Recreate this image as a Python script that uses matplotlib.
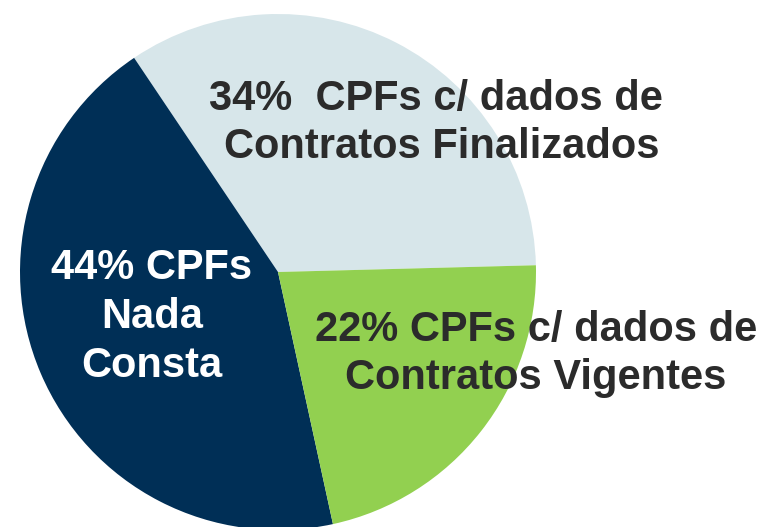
import matplotlib
matplotlib.use("Agg")
import matplotlib.pyplot as plt

categories = ["CPFs c/ dados de Contratos Finalizados", "CPFs Nada Consta", "CPFs c/ dados de Contratos Vigentes"]
values = [34, 44, 22]
labels = ["34%  CPFs c/ dados de \nContratos Finalizados", "44% CPFs\nNada\nConsta", "22% CPFs c/ dados de\nContratos Vigentes"]
colors = ["#D7E6EA", "#002F56", "#92D050"]
text_colors = ["#2B2B2B", "#FFFFFF", "#2B2B2B"]

W, H = 766, 527
fig = plt.figure(figsize=(W / 100, H / 100), dpi=100)
ax = fig.add_axes([0, 0, 1, 1])

cx, cy, r = 278, H - 272, 258
ax.pie(values, colors=colors, startangle=1.5, counterclock=True,
       center=(cx, cy), radius=r, frame=True,
       wedgeprops=dict(linewidth=0))
ax.set_xlim(0, W)
ax.set_ylim(0, H)
ax.set_aspect("equal")
ax.axis("off")

label_pos = [(442, H - 123), (152, H - 317), (536, H - 354)]
for (x, y), lab, tc in zip(label_pos, labels, text_colors):
    ax.text(x, y, lab, ha="center", va="center", color=tc, fontsize=30,
            fontweight="bold", family="Liberation Sans", linespacing=1.28)

fig.savefig("out.png", dpi=100)
